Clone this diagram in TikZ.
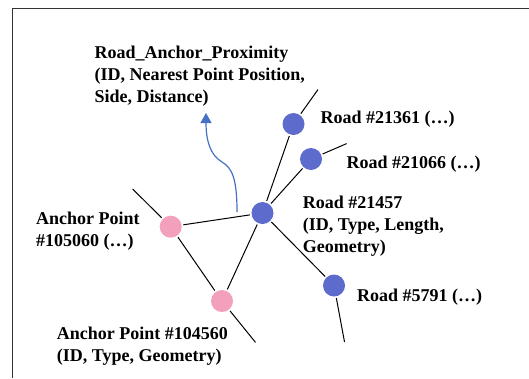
\documentclass[tikz,border=0pt]{standalone}
\usepackage{fontspec}
\setmainfont{Liberation Serif}
\usetikzlibrary{arrows.meta,positioning}
\definecolor{roadblue}{RGB}{93,108,204}
\definecolor{anchorpink}{RGB}{242,160,188}
\definecolor{arrowblue}{RGB}{68,114,196}

\begin{document}
\begin{tikzpicture}[
    x=1pt, y=-1pt,
    font=\fontsize{18}{22}\selectfont\bfseries,
    road/.style={circle, fill=roadblue, minimum size=22pt, inner sep=0pt},
    anchorpt/.style={circle, fill=anchorpink, minimum size=22pt, inner sep=0pt},
    link/.style={line width=1pt, shorten <=1.5pt, shorten >=1.5pt},
    lbl/.style={anchor=west, align=left, inner sep=0pt},
]
\useasboundingbox (0,0) rectangle (529,378);

%% ── frame ──────────────────────────────────────────────────
\draw[line width=1pt, black!80] (12,378) -- (12,8) -- (529,8);

%% ── nodes ──────────────────────────────────────────────────
\node[road]     (r21457)  at (262.5,213)  {};
\node[road]     (r21361)  at (293.5,124)  {};
\node[road]     (r21066)  at (311,159)    {};
\node[road]     (r5791)   at (334,285.5)  {};
\node[anchorpt] (a105060) at (170.7,226.7) {};
\node[anchorpt] (a104560) at (222,301)    {};

\coordinate (e21361)  at (318.8,88.4);
\coordinate (e21066)  at (348,143);
\coordinate (e5791)   at (344.8,343.5);
\coordinate (e105060) at (131.6,188);
\coordinate (e104560) at (256.4,343.5);
\coordinate (prox)    at (237,212);

%% ── links ──────────────────────────────────────────────────
\draw[link] (r21361)  -- (e21361);
\draw[link] (r21361)  -- (r21457);
\draw[link] (r21066)  -- (e21066);
\draw[link] (r21066)  -- (r21457);
\draw[link] (r21457)  -- (a105060);
\draw[link] (r21457)  -- (a104560);
\draw[link] (r21457)  -- (r5791);
\draw[link] (r5791)   -- (e5791);
\draw[link] (a105060) -- (e105060);
\draw[link] (a105060) -- (a104560);
\draw[link] (a104560) -- (e104560);

\draw[arrowblue, line width=1.2pt, -{Triangle[width=11pt,length=10pt]}]
  (prox) .. controls (237,178) and (232,168) .. (222,162)
         .. controls (210,155) and (206,140) .. (206,113);

%% ── labels ─────────────────────────────────────────────────
\node[lbl] (lprox)    at (94.5,76.5) {Road\_Anchor\_Proximity\\(ID, Nearest Point Position,\\Side, Distance)};
\node[lbl] (l21361)   at (320.5,119) {Road \#21361 (…)};
\node[lbl] (l21066)   at (346.5,164.5) {Road \#21066 (…)};
\node[lbl] (l21457)   at (302.6,226) {Road \#21457\\(ID, Type, Length,\\Geometry)};
\node[lbl] (l5791)    at (357,297.5) {Road \#5791 (…)};
\node[lbl] (l105060)  at (36,231.5)  {Anchor Point\\\#105060 (…)};
\node[lbl] (l104560)  at (56.7,346.5) {Anchor Point \#104560\\(ID, Type, Geometry)};

\end{tikzpicture}
\end{document}
